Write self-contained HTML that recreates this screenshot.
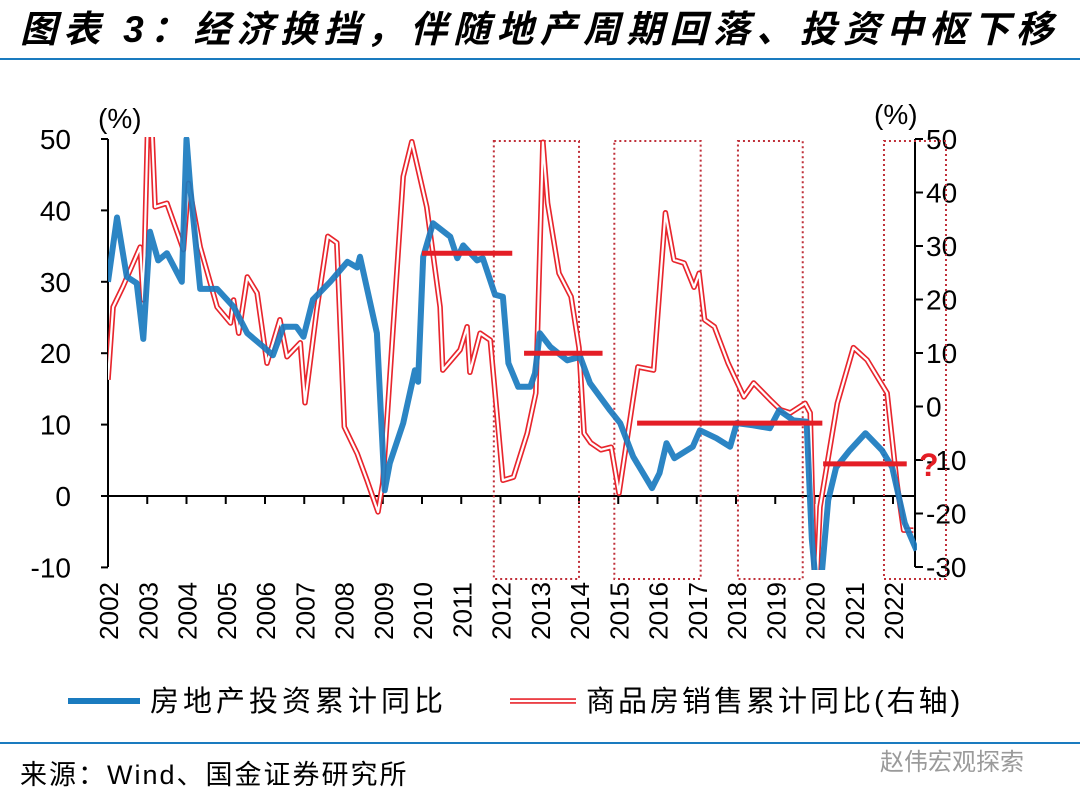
<!DOCTYPE html>
<html><head><meta charset="utf-8">
<style>
body{margin:0;background:#fff;width:1080px;height:807px;overflow:hidden;font-family:"Liberation Sans","Noto Sans CJK SC",sans-serif;}
svg{position:absolute;left:0;top:0}
</style></head>
<body>
<svg width="1080" height="807">
<text x="20" y="42" font-size="37" font-weight="bold" font-style="italic" letter-spacing="6.3" fill="#000" font-family="'Liberation Sans','Noto Sans CJK SC',sans-serif">图表 3：经济换挡，伴随地产周期回落、投资中枢下移</text>
<line x1="0" y1="59" x2="1080" y2="59" stroke="#1a7bbf" stroke-width="2"/>
<line x1="0" y1="743" x2="1080" y2="743" stroke="#1a7bbf" stroke-width="2"/>
<text x="20" y="784" font-size="27" letter-spacing="2" fill="#000">来源：Wind、国金证券研究所</text>
<text x="880" y="770" font-size="24" fill="#9a9a9a">赵伟宏观探索</text>
<g id="plot"></g>
</svg>
<script>
const years=["2002","2003","2004","2005","2006","2007","2008","2009","2010","2011","2012","2013","2014","2015","2016","2017","2018","2019","2020","2021","2022"];
const leftTicks=[50,40,30,20,10,0,-10];
const rightTicks=[50,40,30,20,10,0,-10,-20,-30];
const blueT=[2002.0,2002.23,2002.48,2002.73,2002.9,2003.07,2003.28,2003.5,2003.88,2004.0,2004.1,2004.35,2004.78,2005.2,2005.55,2005.98,2006.2,2006.47,2006.8,2006.98,2007.22,2007.66,2008.1,2008.35,2008.42,2008.85,2009.05,2009.18,2009.52,2009.82,2009.9,2010.03,2010.28,2010.72,2010.9,2011.05,2011.4,2011.55,2011.86,2012.06,2012.2,2012.45,2012.76,2012.88,2013.0,2013.27,2013.7,2014.03,2014.28,2014.79,2015.05,2015.38,2015.86,2016.05,2016.23,2016.43,2016.9,2017.08,2017.5,2017.85,2018.02,2018.43,2018.86,2019.1,2019.46,2019.8,2019.93,2020.1,2020.35,2020.55,2020.9,2021.3,2021.72,2021.98,2022.3,2022.6];
const blueV=[30,39,30.7,29.8,22,37,33,34,30,50,43,29,29,26.5,22.8,20.8,19.7,23.7,23.7,22.3,27.5,30,32.8,32,33.5,22.8,0.8,4.6,10.2,17.6,16,33.5,38.2,36.3,33.3,35.1,33,33.3,28.2,27.9,18.6,15.3,15.3,17.2,22.8,20.9,19,19.5,15.8,12,10.2,5.5,1.1,3.2,7.4,5.3,6.9,9.2,8.1,6.9,10.2,9.9,9.5,12,10.6,10.4,-6,-16.3,-0.6,4,6.4,8.8,6.4,4,-3.8,-7.6];
const redT=[2002.0,2002.13,2002.38,2002.82,2002.9,2003.02,2003.1,2003.2,2003.5,2003.84,2003.92,2004.05,2004.35,2004.78,2005.12,2005.2,2005.33,2005.55,2005.8,2006.05,2006.38,2006.56,2006.9,2007.02,2007.32,2007.6,2007.83,2008.02,2008.35,2008.6,2008.88,2009.0,2009.52,2009.74,2010.12,2010.46,2010.53,2010.97,2011.15,2011.22,2011.48,2011.74,2012.06,2012.33,2012.68,2012.9,2013.08,2013.2,2013.49,2013.8,2014.0,2014.13,2014.3,2014.56,2014.82,2015.02,2015.5,2015.9,2016.2,2016.42,2016.68,2016.93,2017.06,2017.2,2017.45,2017.8,2018.2,2018.45,2018.88,2019.13,2019.38,2019.76,2019.89,2020.02,2020.14,2020.58,2020.99,2021.34,2021.85,2022.1,2022.27,2022.52];
const redV=[5,18.6,22.4,29.8,19.9,55,55,37.3,38,31,29.3,41.7,29.8,18.6,15.6,19.9,13.7,24.2,21.2,8.1,16.2,9.3,11.9,0.7,18.1,31.8,30.6,-3.8,-8.8,-13.8,-19.7,-14.3,43,49.5,37.3,18.6,6.8,10.6,14.9,6.4,13.7,12.4,-13.8,-13.2,-5,2.5,49.4,38,24.9,20.5,11,-5,-6.8,-8.1,-7.6,-16.2,7.4,6.8,36.2,27.4,26.8,22.3,24.9,16.2,14.9,8.1,1.8,4.4,1.2,-0.6,-1.2,0.6,-1.2,-39,-18.8,0.6,11,8.7,2.5,-14.3,-23.1,-23.1];
const hBarStart=[2010.0,2012.6,2015.48,2020.22];
const hBarEnd=[2012.3,2014.6,2020.2,2022.35];
const hBarVal=[34,20,10.2,4.5];
const boxStart=[2011.83,2014.9,2018.05,2021.77];
const boxEnd=[2014.0,2017.1,2019.7,2023.35];

const NS="http://www.w3.org/2000/svg";
const g=document.getElementById('plot');
const X0=108,XS=39.25,YL0=496,YLS=7.14,YR0=406.5,YRS=5.35,XR=915;
const xs=t=>X0+(t-2002)*XS;
const yl=v=>YL0-v*YLS;
const yr=v=>YR0-v*YRS;
function mk(tag,attrs,parent){const e=document.createElementNS(NS,tag);for(const k in attrs)e.setAttribute(k,attrs[k]);(parent||g).appendChild(e);return e;}

const defs=mk('defs',{});
const cp=mk('clipPath',{id:'clip'},defs);
mk('rect',{x:X0,y:137,width:XR-X0+2,height:433},cp);

let e=mk('line',{x1:X0,y1:139,x2:X0,y2:567,stroke:'#000','stroke-width':2});


e=mk('line',{x1:XR,y1:139,x2:XR,y2:567,stroke:'#000','stroke-width':2});


e=mk('line',{x1:X0,y1:YL0,x2:XR,y2:YL0,stroke:'#000','stroke-width':2});



leftTicks.forEach(v=>{
  mk('line',{x1:X0-7,y1:yl(v),x2:X0,y2:yl(v),stroke:'#000','stroke-width':2});
  const t=mk('text',{x:71,y:yl(v)+10,'font-size':28,'text-anchor':'end',fill:'#000'});
  t.textContent=v;
  
  
});
rightTicks.forEach(v=>{
  mk('line',{x1:XR,y1:yr(v),x2:XR+8,y2:yr(v),stroke:'#000','stroke-width':2});
  const t=mk('text',{x:926,y:yr(v)+10,'font-size':28,fill:'#000'});
  t.textContent=v;
  
  
});
years.forEach((y,i)=>{
  const x=xs(2002+i);
  if(i>0) mk('line',{x1:x,y1:YL0,x2:x,y2:YL0+8,stroke:'#000','stroke-width':2});
  const t=mk('text',{x:0,y:0,'font-size':26,'text-anchor':'end',fill:'#000',transform:`translate(${x+10},582) rotate(-90)`});
  t.textContent=y;
  
  
});
let u=mk('text',{x:98,y:128,'font-size':28,fill:'#000'});u.textContent='(%)';


u=mk('text',{x:874,y:124,'font-size':28,fill:'#000'});u.textContent='(%)';



boxStart.forEach((s,i)=>{
  const r=mk('rect',{x:xs(s),y:141,width:xs(boxEnd[i])-xs(s),height:438,fill:'none',stroke:'#c0303a','stroke-width':2,'stroke-dasharray':'2,3'});
  
  
});

const rp=redT.map((t,i)=>(i?'L':'M')+xs(t).toFixed(1)+','+yr(redV[i]).toFixed(1)).join('');
const rg=mk('g',{'clip-path':'url(#clip)'});


mk('path',{d:rp,fill:'none',stroke:'#e8262d','stroke-width':5.5,'stroke-linejoin':'round'},rg);
mk('path',{d:rp,fill:'none',stroke:'#fff','stroke-width':2.2,'stroke-linejoin':'round'},rg);
const bp=blueT.map((t,i)=>(i?'L':'M')+xs(t).toFixed(1)+','+yl(blueV[i]).toFixed(1)).join('');
const bl=mk('path',{d:bp,fill:'none',stroke:'#1a7bbf','stroke-width':6,'stroke-linejoin':'round','clip-path':'url(#clip)','stroke-opacity':0.92});



hBarStart.forEach((s,i)=>{
  const l=mk('line',{x1:xs(s),y1:yl(hBarVal[i]),x2:xs(hBarEnd[i]),y2:yl(hBarVal[i]),stroke:'#e41e26','stroke-width':5});
  
  
});
const q=mk('text',{x:919,y:476,'font-size':32,'font-weight':'bold',fill:'#e41e26'});q.textContent='?';



const lg=mk('g',{});


mk('line',{x1:68,y1:701,x2:140,y2:701,stroke:'#1a7bbf','stroke-width':6},lg);
let lt=mk('text',{x:150,y:711,'font-size':29,'letter-spacing':4,fill:'#000'},lg);lt.textContent='房地产投资累计同比';


mk('line',{x1:510,y1:701,x2:576,y2:701,stroke:'#e8262d','stroke-width':5.5},lg);
mk('line',{x1:510,y1:701,x2:576,y2:701,stroke:'#fff','stroke-width':2.2},lg);
lt=mk('text',{x:586,y:711,'font-size':29,'letter-spacing':3,fill:'#000'},lg);lt.textContent='商品房销售累计同比(右轴)';


</script>
</body></html>
